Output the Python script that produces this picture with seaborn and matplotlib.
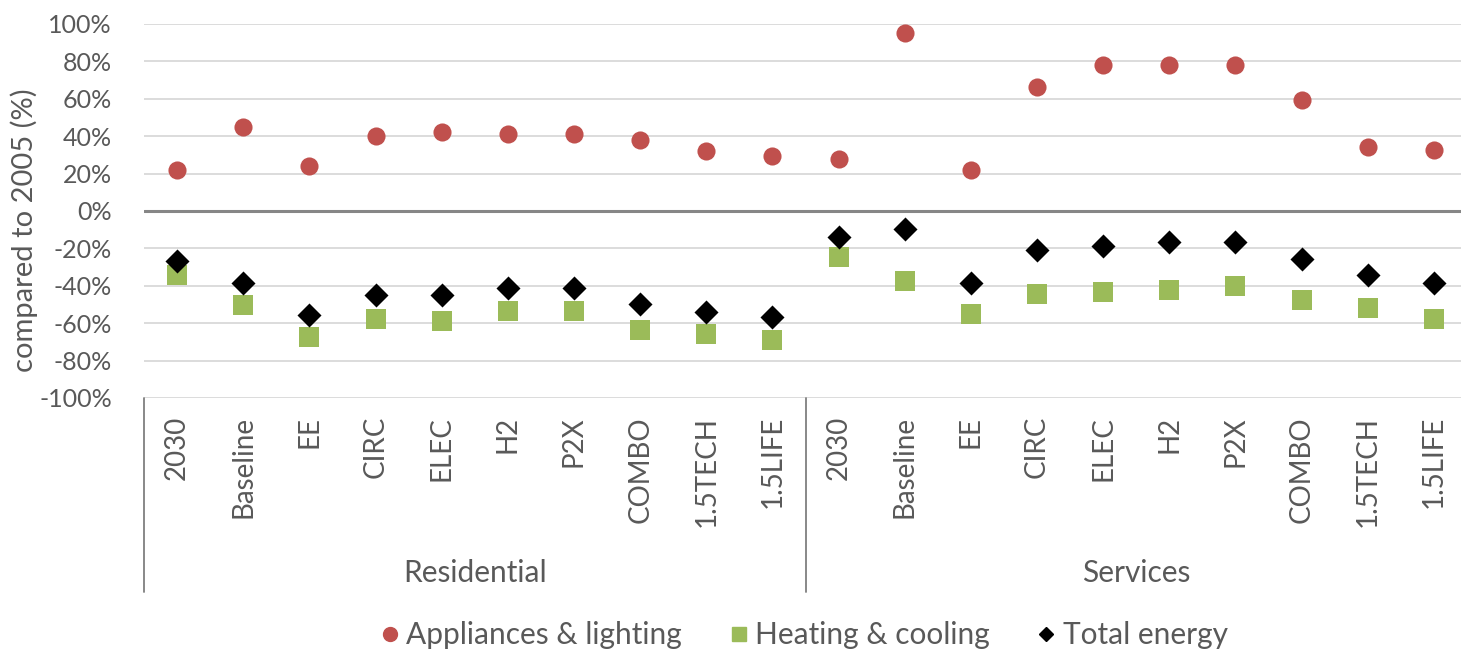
import matplotlib
matplotlib.use("Agg")
import matplotlib.pyplot as plt
import matplotlib.transforms as mtransforms
from matplotlib.lines import Line2D
import seaborn as sns
import pandas as pd

scenarios = ["2030", "Baseline", "EE", "CIRC", "ELEC", "H2", "P2X", "COMBO", "1.5TECH", "1.5LIFE"]
sectors = ["Residential", "Services"]

appliances_res = [22, 45, 24, 40, 42.5, 41, 41, 38, 32, 29.5]
appliances_srv = [28, 95, 22, 66.5, 78, 78, 78, 59.5, 34, 32.5]
heating_res = [-34.5, -50.5, -67.5, -58, -59, -53.5, -53.5, -63.5, -66, -69]
heating_srv = [-24.5, -37.5, -55, -44.5, -43.5, -42, -40, -47.5, -52, -57.5]
total_res = [-27, -38.5, -55.5, -45, -45, -41, -41, -49.5, -54, -56.5]
total_srv = [-14, -9.5, -38.5, -21, -18.5, -16.5, -16.5, -25.5, -34, -38.5]

series_names = ["Appliances & lighting", "Heating & cooling", "Total energy"]
series_values = {
    "Appliances & lighting": appliances_res + appliances_srv,
    "Heating & cooling": heating_res + heating_srv,
    "Total energy": total_res + total_srv,
}

keys = [f"{s}|{c}" for s in sectors for c in scenarios]
rows = []
for name in series_names:
    for k, v in zip(keys, series_values[name]):
        rows.append({"key": k, "series": name, "value": v})
df = pd.DataFrame(rows)

sns.set_theme(style="white")
plt.rcParams["font.family"] = ["Lato", "DejaVu Sans"]

text_col = "#595959"
colors = {"Appliances & lighting": "#C0504D", "Heating & cooling": "#9BBB59", "Total energy": "#000000"}
markers = {"Appliances & lighting": "o", "Heating & cooling": "s", "Total energy": "D"}
sizes = {"Appliances & lighting": 170, "Heating & cooling": 190, "Total energy": 150}

fig = plt.figure(figsize=(14.61, 6.52), dpi=100)
ax_h = 0.5736
ax_w = 1323 / 1461
ax = fig.add_axes([144 / 1461, 0.3896, ax_w, ax_h])
ax_px = ax_h * 652
ax_wpx = ax_w * 1461

# gridlines
for yv in range(-100, 101, 20):
    if yv == 0:
        continue
    ax.axhline(yv, color="#D9D9D9", lw=1.3, zorder=0)
ax.axhline(0, color="#868686", lw=2.2, zorder=1)

for name in series_names:
    sub = df[df["series"] == name]
    sns.scatterplot(data=sub, x="key", y="value", ax=ax, color=colors[name],
                    marker=markers[name], s=sizes[name], linewidth=0, zorder=3,
                    legend=False)

ax.set_xlim(-0.5, len(keys) - 0.5)
ax.set_ylim(-100, 100)
ax.set_yticks(range(-100, 101, 20))
ax.set_yticklabels([f"{v}%" for v in range(-100, 101, 20)], color=text_col, fontsize=18)
ax.set_xticks(range(len(keys)))
ax.set_xticklabels(scenarios * 2, rotation=90, color=text_col, fontsize=20, va="top")
ax.tick_params(axis="x", length=0, pad=13)
ax.tick_params(axis="y", length=0, pad=23)
ax.set_xlabel("")
ax.set_ylabel("compared to 2005 (%)", color=text_col, fontsize=21)
ax.yaxis.set_label_coords((38 - 144) / ax_wpx, (398 - 230) / ax_px)

for sp in ["top", "right", "bottom", "left"]:
    ax.spines[sp].set_visible(False)

trans = mtransforms.blended_transform_factory(ax.transData, ax.transAxes)
line_end = -(592 - 398) / ax_px
for xv in [-0.5, 9.5]:
    ax.plot([xv, xv], [0, line_end], transform=trans, color="#7F7F7F", lw=1.3, clip_on=False)

grp_y = -(573 - 398) / ax_px
ax.text(4.5, grp_y, "Residential", transform=trans, ha="center", va="center",
        color=text_col, fontsize=21.5)
ax.text(14.5, grp_y, "Services", transform=trans, ha="center", va="center",
        color=text_col, fontsize=21.5)

handles = [
    Line2D([], [], ls="", marker="o", color=colors["Appliances & lighting"], markersize=10),
    Line2D([], [], ls="", marker="s", color=colors["Heating & cooling"], markersize=10),
    Line2D([], [], ls="", marker="D", color=colors["Total energy"], markersize=7),
]
leg = fig.legend(handles, series_names, loc="center", bbox_to_anchor=(802 / 1461, 1 - 635 / 652),
                 ncol=3, frameon=False, fontsize=21.5, handletextpad=0.1,
                 columnspacing=1.45, handlelength=0.9)
for t in leg.get_texts():
    t.set_color(text_col)

fig.savefig("out.png", dpi=100)
